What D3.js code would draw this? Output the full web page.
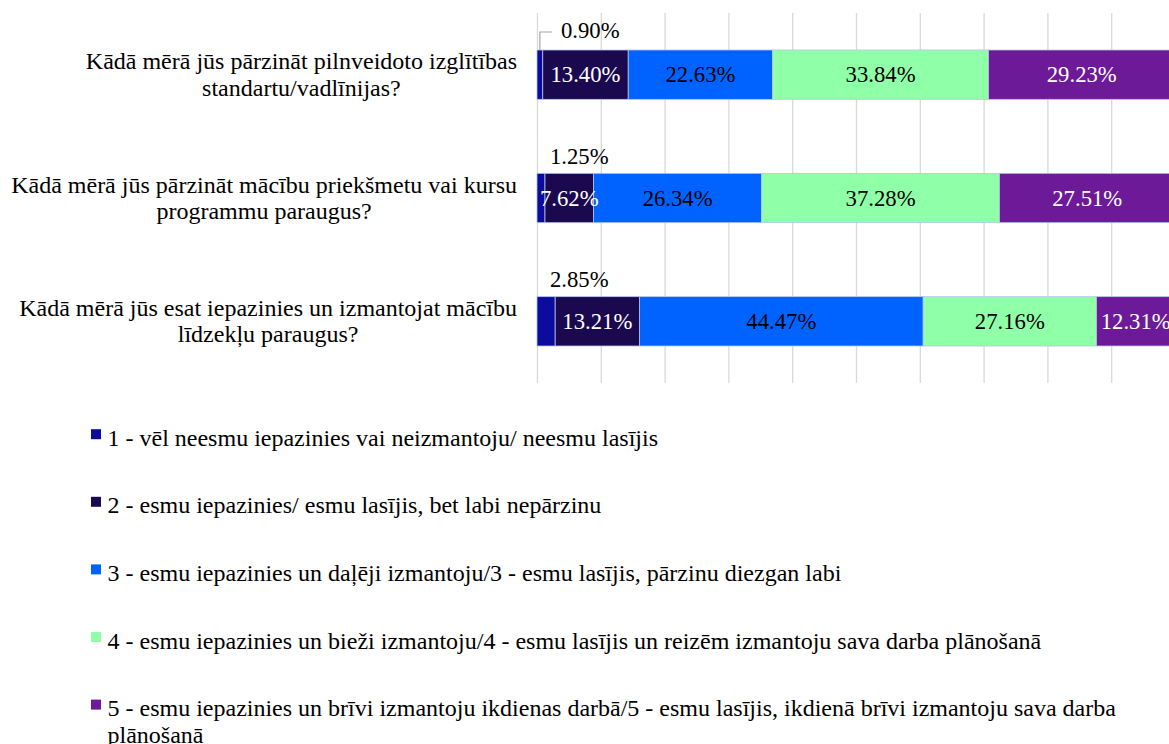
<!DOCTYPE html>
<html>
<head>
<meta charset="utf-8">
<script src="https://cdn.jsdelivr.net/npm/d3@7"></script>
<style>
  body { margin: 0; background: #fff; }
</style>
</head>
<body>
<svg id="chart" width="1169" height="744"></svg>
<script>
const categories = [
  'Kādā mērā jūs pārzināt pilnveidoto izglītības standartu/vadlīnijas?',
  'Kādā mērā jūs pārzināt mācību priekšmetu vai kursu programmu paraugus?',
  'Kādā mērā jūs esat iepazinies un izmantojat mācību līdzekļu paraugus?'
]

const seriesNames = [
  '1 - vēl neesmu iepazinies vai neizmantoju/ neesmu lasījis',
  '2 - esmu iepazinies/ esmu lasījis, bet labi nepārzinu',
  '3 - esmu iepazinies un daļēji izmantoju/3 - esmu lasījis, pārzinu diezgan labi',
  '4 - esmu iepazinies un bieži izmantoju/4 - esmu lasījis un reizēm izmantoju sava darba plānošanā',
  '5 - esmu iepazinies un brīvi izmantoju ikdienas darbā/5 - esmu lasījis, ikdienā brīvi izmantoju sava darba plānošanā'
]

// percentages per category, one array per answer level
const level1 = [0.90, 1.25, 2.85]
const level2 = [13.40, 7.62, 13.21]
const level3 = [22.63, 26.34, 44.47]
const level4 = [33.84, 37.28, 27.16]
const level5 = [29.23, 27.51, 12.31]

const xTicks = [0, 10, 20, 30, 40, 50, 60, 70, 80, 90, 100]

const colors = ['#0b0b9e', '#1b0950', '#0063ff', '#8fffa8', '#6d1a98']
const labelColors = ['#000', '#fff', '#000', '#000', '#fff']

const keys = ['l1', 'l2', 'l3', 'l4', 'l5']
const levels = [level1, level2, level3, level4, level5]
const rows = categories.map((c, i) => {
  const r = { cat: c }
  keys.forEach((k, j) => { r[k] = levels[j][i] })
  return r
})

const FONT = '"Liberation Serif", Tinos, "Times New Roman", "DejaVu Serif", serif'

const svg = d3.select('#chart')
  .attr('font-family', FONT)
  .style('font-family', FONT)

const plotTop = 13
const plotBottom = 383

const xScale = d3.scaleLinear()
  .domain([0, 100])
  .range([537, 1175])

const yScale = d3.scaleBand()
  .domain(categories)
  .range([plotTop, plotBottom])
  .paddingInner(0.6)
  .paddingOuter(0.3)

// gridlines
const xAxis = d3.axisBottom(xScale)
  .tickValues(xTicks)
  .tickSize(plotBottom - plotTop)
  .tickFormat('')

const grid = svg.append('g')
  .attr('transform', `translate(0, ${plotTop})`)
  .call(xAxis)
grid.select('.domain').remove()
grid.selectAll('.tick line')
  .style('stroke', '#d9d9d9')
  .style('stroke-width', 1.3)

// measuring helper
const measurer = svg.append('text')
  .style('font-family', FONT)
  .attr('opacity', 0)
function textWidth (s, size) {
  measurer.style('font-size', size + 'px').text(s)
  return measurer.node().getComputedTextLength()
}
function wrap (s, maxW, size) {
  const words = s.split(' ')
  const lines = []
  let cur = ''
  words.forEach(w => {
    const test = cur ? cur + ' ' + w : w
    if (cur && textWidth(test, size) > maxW) {
      lines.push(cur)
      cur = w
    } else {
      cur = test
    }
  })
  if (cur) lines.push(cur)
  return lines
}

// stacked bars
const stack = d3.stack().keys(keys)
const series = stack(rows)

const layers = svg.append('g').selectAll('g')
  .data(series)
  .join('g')
  .attr('fill', (d, i) => colors[i])

layers.selectAll('rect')
  .data(d => d)
  .join('rect')
  .attr('x', d => xScale(d[0]))
  .attr('y', d => yScale(d.data.cat))
  .attr('width', d => xScale(d[1]) - xScale(d[0]))
  .attr('height', yScale.bandwidth())
  .attr('stroke', '#b3c4ec')
  .attr('stroke-width', 0.8)

// data labels
const labelSize = 22.7
series.forEach((s, si) => {
  s.forEach(d => {
    const v = d[1] - d[0]
    const top = yScale(d.data.cat)
    const mid = top + yScale.bandwidth() / 2
    const txt = v.toFixed(2) + '%'
    if (v < 5) {
      // small segment: label sits above the bar
      const leader = v < 1
      const lx = xScale(0) + (leader ? 24 : 13)
      svg.append('text')
        .attr('x', lx)
        .attr('y', top - (leader ? 12 : 9.5))
        .style('font-family', FONT)
        .style('font-size', labelSize + 'px')
        .style('fill', '#000')
        .text(txt)
      if (leader) {
        const cx = (xScale(d[0]) + xScale(d[1])) / 2
        svg.append('path')
          .attr('d', `M${cx},${top} V${top - 18} H${lx - 9}`)
          .attr('fill', 'none')
          .attr('stroke', '#a6a6a6')
          .attr('stroke-width', 1.2)
      }
    } else {
      svg.append('text')
        .attr('x', (xScale(d[0]) + xScale(d[1])) / 2)
        .attr('y', mid + 7.8)
        .attr('text-anchor', 'middle')
        .style('font-family', FONT)
        .style('font-size', labelSize + 'px')
        .style('fill', labelColors[si])
        .text(txt)
    }
  })
})

// category labels
const catSize = 24
const catLine = 26.3
categories.forEach(c => {
  const lines = wrap(c, 540, catSize)
  const blockW = d3.max(lines, l => textWidth(l, catSize))
  const cx = 517 - blockW / 2
  const mid = yScale(c) + yScale.bandwidth() / 2
  const t = svg.append('text')
    .attr('text-anchor', 'middle')
    .style('font-family', FONT)
    .style('font-size', catSize + 'px')
    .style('fill', '#000')
  lines.forEach((l, i) => {
    t.append('tspan')
      .attr('x', cx)
      .attr('y', mid + (i - (lines.length - 1) / 2) * catLine + 7.8)
      .text(l)
  })
})

// legend
const legendTop = 445.7
const legendStep = 67.6
const legend = svg.append('g')
seriesNames.forEach((name, i) => {
  const base = legendTop + i * legendStep
  legend.append('rect')
    .attr('x', 91)
    .attr('y', base - 16.5)
    .attr('width', 10)
    .attr('height', 10)
    .attr('fill', colors[i])
  const lines = wrap(name, 1030, 24)
  const t = legend.append('text')
    .style('font-family', FONT)
    .style('font-size', '24px')
    .style('fill', '#000')
  lines.forEach((l, j) => {
    t.append('tspan')
      .attr('x', 107.5)
      .attr('y', base + j * 27)
      .text(l)
  })
})

measurer.remove()
</script>
</body>
</html>
